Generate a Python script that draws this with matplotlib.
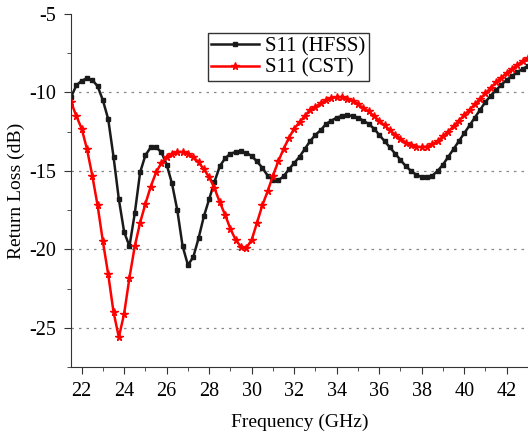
import numpy as np
import matplotlib
matplotlib.use('Agg')
import matplotlib.pyplot as plt
from matplotlib.ticker import MultipleLocator

plt.rcParams['font.family'] = ['Liberation Serif', 'DejaVu Serif']
plt.rcParams['axes.unicode_minus'] = False

# frequency sweep (GHz), 0.25 GHz step
freq = np.arange(21.5, 43.01, 0.25)

# return loss (dB)
s11_hfss = [-10.3, -9.55, -9.25, -9.1, -9.2, -9.6, -10.5, -11.7, -14.1, -16.8,
            -18.9, -19.8, -17.7, -15.1, -14.0, -13.5, -13.5, -13.8, -14.6, -15.8,
            -17.5, -19.8, -21.0, -20.5, -19.3, -17.9, -16.8, -15.7, -14.7, -14.2,
            -13.9, -13.8, -13.75, -13.85, -14.05, -14.4, -14.8, -15.3, -15.6, -15.6,
            -15.35, -14.9, -14.5, -14.1, -13.6, -13.1, -12.7, -12.4, -12.0, -11.8,
            -11.6, -11.5, -11.45, -11.5, -11.6, -11.8, -12.0, -12.3, -12.7, -13.1,
            -13.5, -13.9, -14.3, -14.7, -15.0, -15.25, -15.4, -15.4, -15.3, -15.0,
            -14.6, -14.1, -13.6, -13.1, -12.6, -12.1, -11.6, -11.1, -10.6, -10.2,
            -9.85, -9.5, -9.2, -8.95, -8.7, -8.5, -8.3]

s11_cst = [-10.6, -11.5, -12.3, -13.6, -15.3, -17.2, -19.5, -21.6, -24.0, -25.6,
           -24.1, -21.8, -19.8, -18.3, -17.1, -16.0, -15.1, -14.5, -14.1, -13.9,
           -13.8, -13.8, -13.9, -14.1, -14.45, -14.9, -15.4, -16.1, -17.0, -17.8,
           -18.7, -19.4, -19.85, -19.9, -19.4, -18.3, -17.2, -16.3, -15.3, -14.4,
           -13.6, -12.9, -12.3, -11.9, -11.5, -11.1, -10.9, -10.7, -10.5, -10.35,
           -10.3, -10.3, -10.4, -10.55, -10.75, -11.0, -11.2, -11.5, -11.8, -12.1,
           -12.4, -12.7, -12.95, -13.2, -13.35, -13.45, -13.5, -13.45, -13.3, -13.1,
           -12.8, -12.5, -12.15, -11.8, -11.45, -11.1, -10.75, -10.4, -10.05, -9.7,
           -9.35, -9.05, -8.75, -8.5, -8.25, -8.0, -7.8]

fig = plt.figure(figsize=(5.28, 4.32), dpi=100)
ax = fig.add_axes([0.1345, 0.1505, 0.8655, 0.817])

ax.plot(freq, s11_hfss, color='#1a1a1a', linewidth=1.8, marker='s',
        markersize=3.4, label='S11 (HFSS)')
ax.plot(freq, s11_cst, color='#ff0000', linewidth=1.8, marker='*',
        markersize=5.5, label='S11 (CST)')

ax.set_xlim(21.5, 43)
ax.set_ylim(-27.5, -5)
ax.xaxis.set_major_locator(MultipleLocator(2))
ax.xaxis.set_minor_locator(MultipleLocator(1))
ax.yaxis.set_major_locator(MultipleLocator(5))
ax.yaxis.set_minor_locator(MultipleLocator(2.5))
ax.tick_params(which='both', direction='out', labelsize=14.5, colors='#333333', pad=6)
ax.tick_params(which='major', length=5)
ax.tick_params(which='minor', length=3)
for lbl in ax.get_xticklabels() + ax.get_yticklabels():
    lbl.set_color('black')

# dotted horizontal grid
for yv in [-10, -15, -20, -25]:
    ax.axhline(yv, color='#888888', linestyle=(0, (2, 4)), linewidth=0.9, zorder=0)

ax.spines['top'].set_visible(False)
ax.spines['right'].set_visible(False)
ax.spines['left'].set_color('#333333')
ax.spines['bottom'].set_color('#333333')

ax.set_xlabel('Frequency (GHz)', fontsize=14, labelpad=9)
ax.set_ylabel('Return Loss (dB)', fontsize=14)
ax.yaxis.set_label_coords(-0.10, 0.5)

leg = ax.legend(loc='upper left', bbox_to_anchor=(0.30, 0.945), fontsize=15,
                frameon=True, fancybox=False, handlelength=2.3,
                borderpad=0.15, labelspacing=0.1, handletextpad=0.3,
                borderaxespad=0)
leg.get_frame().set_edgecolor('black')
leg.get_frame().set_linewidth(1.0)

plt.savefig('out.png', dpi=100)
